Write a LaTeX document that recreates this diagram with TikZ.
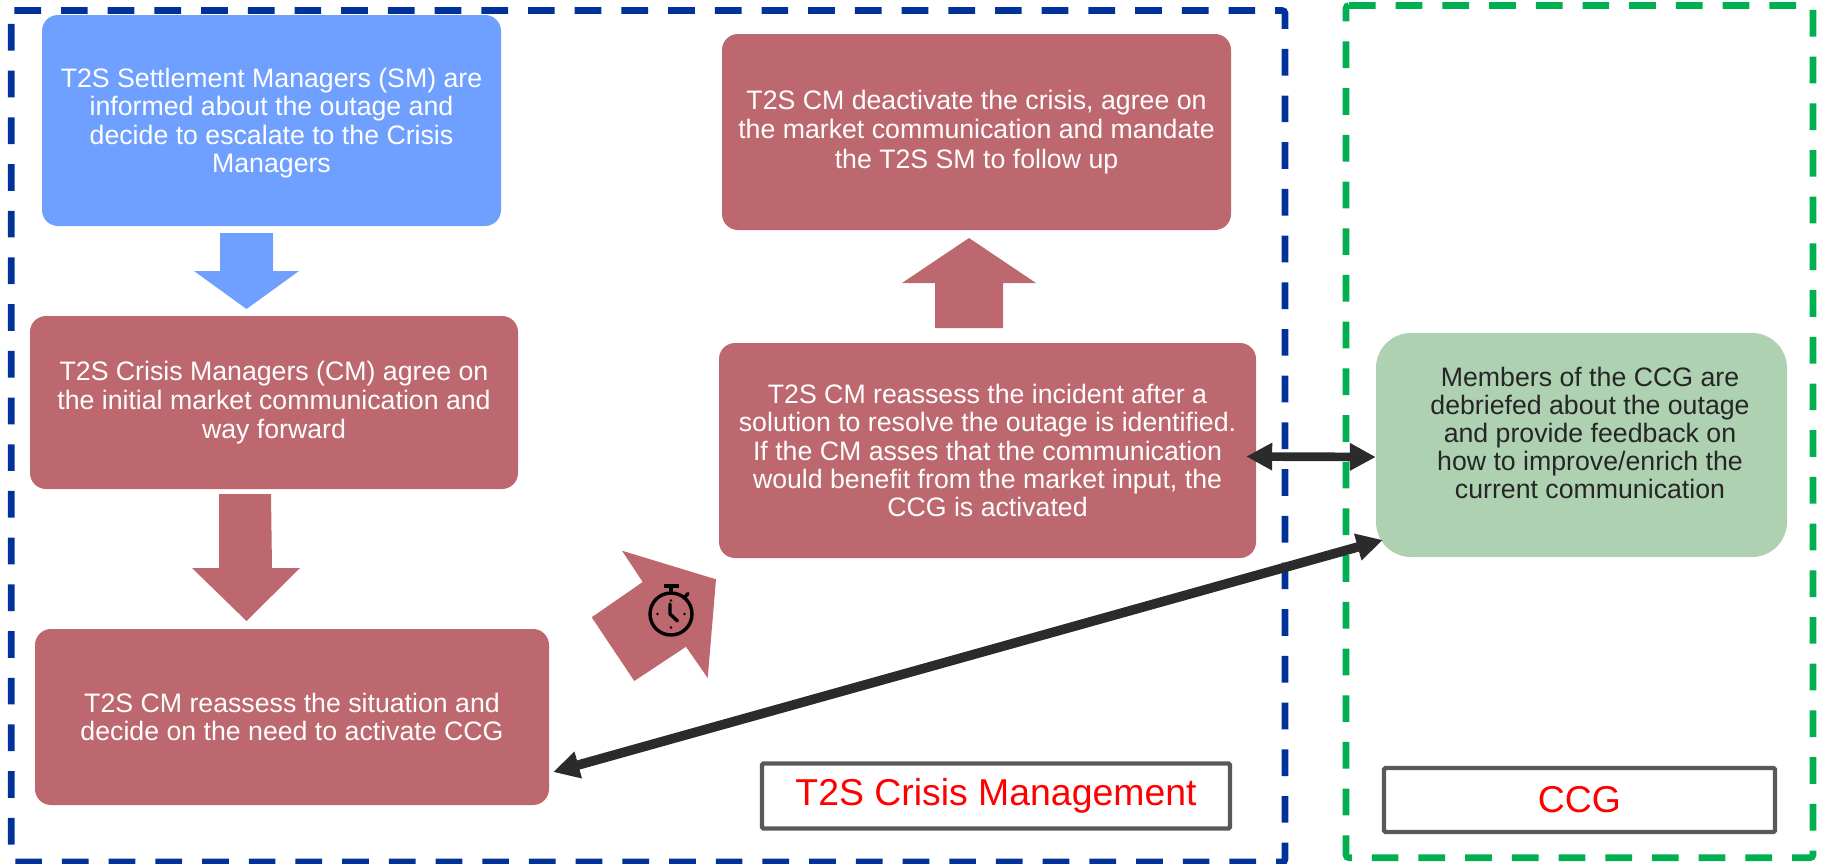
\documentclass[tikz,border=0pt]{standalone}
\usepackage{fontspec}
\setmainfont{Liberation Sans}
\usetikzlibrary{arrows.meta}
\definecolor{bluebox}{HTML}{6FA0FF}
\definecolor{redbox}{HTML}{BD686E}
\definecolor{greenbox}{HTML}{AED1B2}
\definecolor{darkblue}{HTML}{003299}
\definecolor{ccggreen}{HTML}{00B050}
\definecolor{darktext}{HTML}{262626}
\definecolor{arrowdark}{HTML}{2B2B2B}
\definecolor{legendline}{HTML}{595959}
\tikzset{
  box/.style={rounded corners=16pt,inner sep=0pt,align=center,text=white,
    font=\fontsize{26.7pt}{28.2pt}\selectfont},
  zone/.style={line width=6.7pt,dash pattern=on 26.7pt off 20pt,rounded corners=3pt},
  legend/.style={draw=legendline,line width=4.3pt,fill=white,inner sep=0pt,text=red,rounded corners=1.5pt,
    font=\fontsize{37.4pt}{42pt}\selectfont},
  link/.style={draw=arrowdark,line width=8.7pt,{Triangle[length=26pt,width=26pt]}-{Triangle[length=26pt,width=26pt]}},
  watch/.style={draw=black,line width=3.4pt}
}
\begin{document}
\begin{tikzpicture}[x=1pt,y=-1pt]
\useasboundingbox (0,0) rectangle (1824,863);
% zones
\draw[zone,draw=darkblue] (11.3,10.5) -- (1285,10.5) -- (1285,862) -- (11.3,862) -- cycle;
\draw[zone,draw=ccggreen] (1346,5.5) -- (1813,5.5) -- (1813,857.7) -- (1346,857.7) -- cycle;
% boxes
\node[box,fill=bluebox,minimum width=459pt,minimum height=211pt,text height=0pt] (sm) at (271.5,120.5) {};
\node[inner sep=0pt,align=center,text=white,font=\fontsize{26.7pt}{28.2pt}\selectfont] (smtext) at (271.5,123)
  {T2S Settlement Managers (SM) are\\informed about the outage and\\decide to escalate to the Crisis\\Managers};
\node[box,fill=redbox,minimum width=488pt,minimum height=173pt] (cm) at (274,402.5)
  {T2S Crisis Managers (CM) agree on\\[1pt]the initial market communication and\\[1pt]way forward};
\node[box,fill=redbox,minimum width=514pt,minimum height=176pt] (reassess) at (292,717)
  {T2S CM reassess the situation and\\decide on the need to activate CCG};
\node[box,fill=redbox,minimum width=509pt,minimum height=196pt] (deact) at (976.5,132)
  {T2S CM deactivate the crisis, agree on\\[1.5pt]the market communication and mandate\\[1.5pt]the T2S SM to follow up};
\node[box,fill=redbox,minimum width=537pt,minimum height=215pt] (incident) at (987.5,450.5)
  {T2S CM reassess the incident after a\\solution to resolve the outage is identified.\\If the CM asses that the communication\\would benefit from the market input, the\\CCG is activated};
\node[box,fill=greenbox,rounded corners=35pt,minimum width=411pt,minimum height=224pt] (members) at (1581.5,445) {};
\node[inner sep=0pt,align=center,text=darktext,font=\fontsize{26.7pt}{28.2pt}\selectfont] (memberstext) at (1590,433)
  {Members of the CCG are\\debriefed about the outage\\and provide feedback on\\how to improve/enrich the\\current communication};
% block arrows
\fill[bluebox] (220,233) -- (273,233) -- (273,271) -- (299,271) -- (246.5,309) -- (194,271) -- (220,271) -- cycle;
\fill[redbox] (219,494) -- (271,494) -- (272,568) -- (300,568) -- (246.5,621) -- (192,568) -- (219,568) -- cycle;
\fill[redbox] (935,328) -- (1003,328) -- (1003,283) -- (1036,283) -- (969,238) -- (902,283) -- (935,283) -- cycle;
\fill[redbox] (622,550.7) -- (716,579.3) -- (707.7,678) -- (686,646.7) -- (634.3,681) -- (591.7,617.3) -- (642.7,582) -- cycle;
% stopwatch
\draw[watch] (671,614) circle (21pt);
\draw[watch,line width=3.5pt] (663.5,586) -- (679,586);
\draw[watch] (671,586) -- (671,593);
\draw[watch,line cap=round] (684,598) -- (688,593.5);
\draw[watch,line cap=round,line join=round] (670,604) -- (670,614) -- (677.5,621);
\fill (671,600.5) circle (1.3pt) (671,627.5) circle (1.3pt) (657.5,614) circle (1.3pt) (684.5,614) circle (1.3pt);
% connectors
\draw[link] ([shift={(-10,6)}]incident.east) -- ([shift={(0,12)}]members.west);
\draw[link,line width=9.5pt] ([shift={(4,55)}]reassess.east) -- ([shift={(7,95)}]members.west);
% legends
\node[legend,minimum width=468pt,minimum height=65pt] (legendcm) at (996,796) {T2S Crisis Management};
\node[legend,minimum width=391pt,minimum height=64pt] (legendccg) at (1579.5,800) {CCG};
\end{tikzpicture}
\end{document}
